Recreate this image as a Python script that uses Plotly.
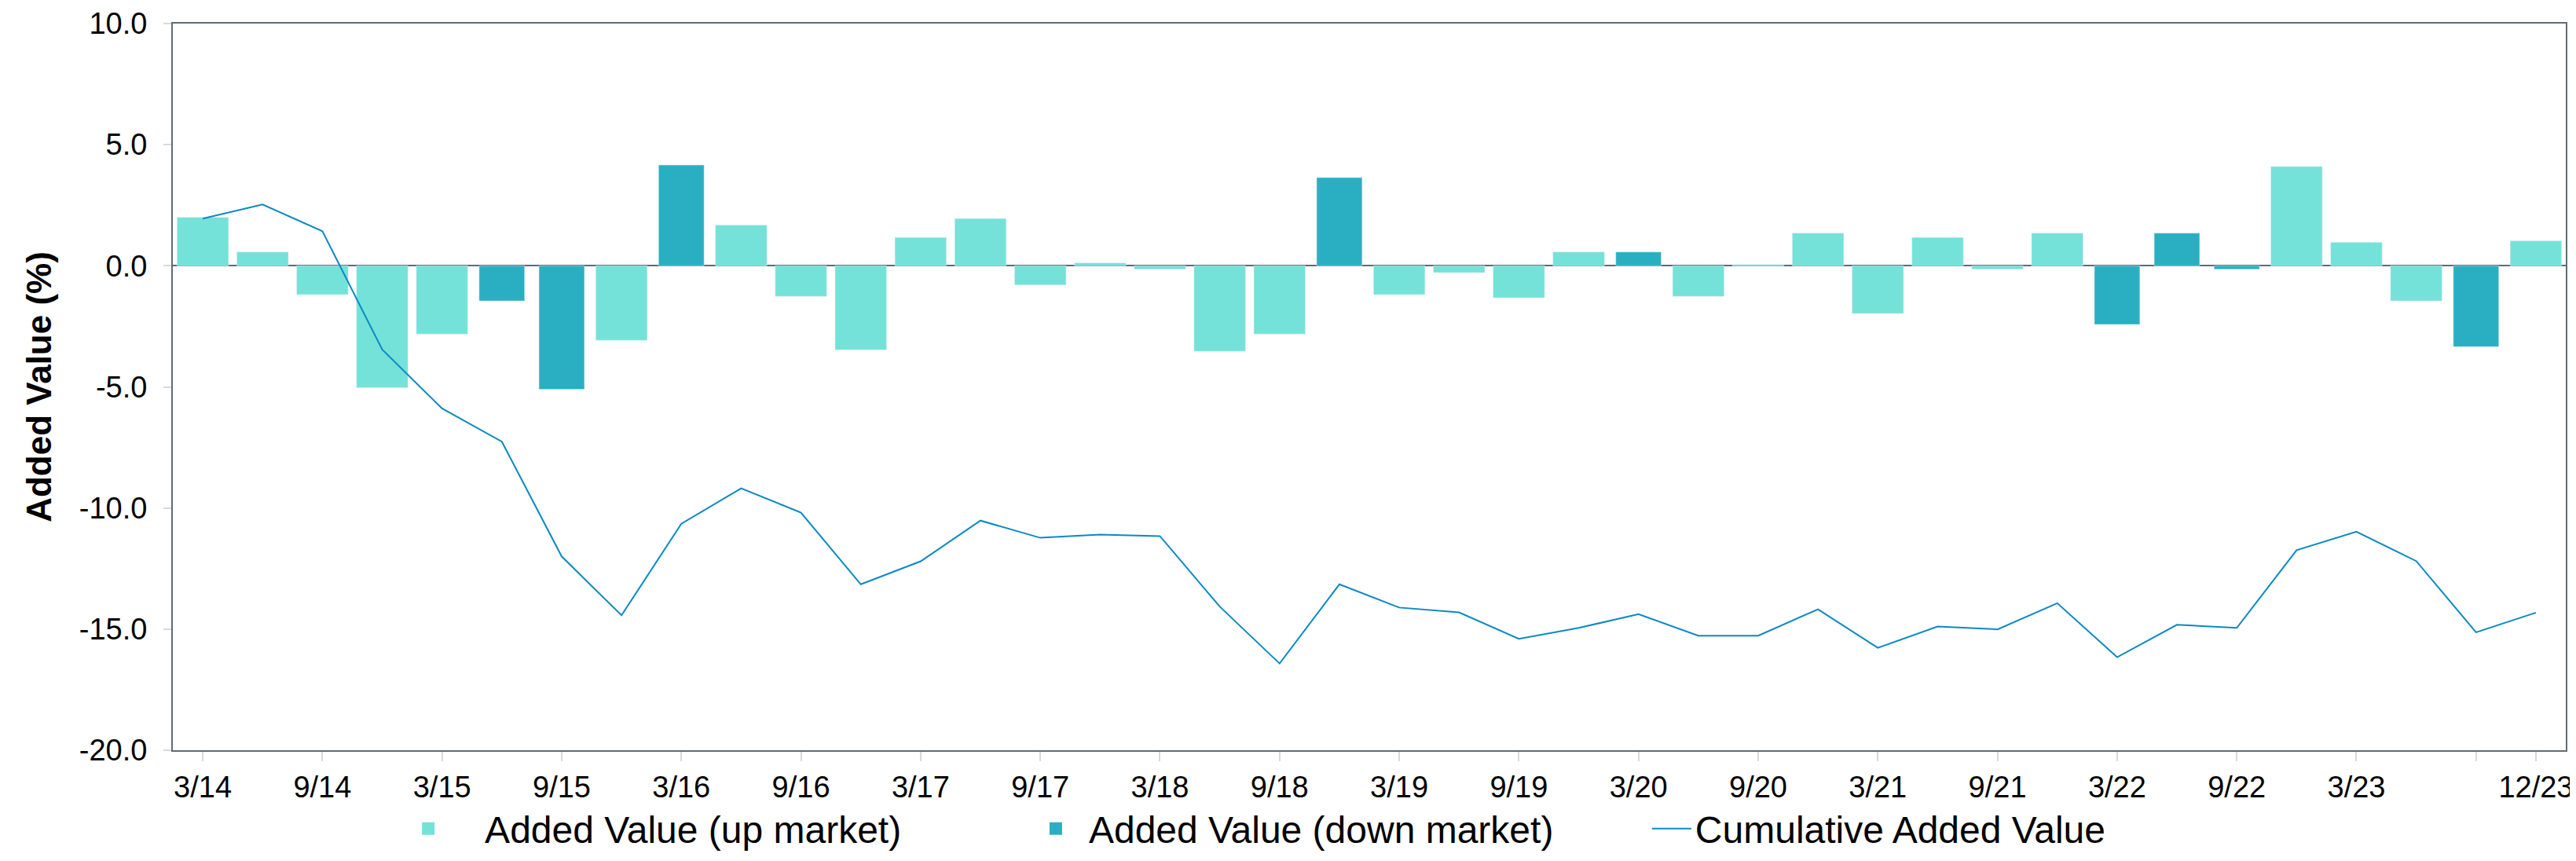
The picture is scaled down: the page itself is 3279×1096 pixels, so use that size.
import plotly.graph_objects as go

quarters = ["3/14", "6/14", "9/14", "12/14", "3/15", "6/15", "9/15", "12/15",
            "3/16", "6/16", "9/16", "12/16", "3/17", "6/17", "9/17", "12/17",
            "3/18", "6/18", "9/18", "12/18", "3/19", "6/19", "9/19", "12/19",
            "3/20", "6/20", "9/20", "12/20", "3/21", "6/21", "9/21", "12/21",
            "3/22", "6/22", "9/22", "12/22", "3/23", "6/23", "9/23", "12/23"]

up_market = [2.00, 0.57, -1.19, -5.03, -2.82, None, None, -3.08,
             None, 1.68, -1.26, -3.47, 1.17, 1.95, -0.79, 0.12,
             -0.14, -3.53, -2.82, None, -1.19, -0.28, -1.32, 0.57,
             None, -1.26, 0.05, 1.35, -1.97, 1.17, -0.14, 1.35,
             None, None, None, 4.10, 0.97, -1.45, None, 1.03]

down_market = [None, None, None, None, None, -1.45, -5.10, None,
               4.16, None, None, None, None, None, None, None,
               None, None, None, 3.64, None, None, None, None,
               0.57, None, None, None, None, None, None, None,
               -2.42, 1.35, -0.14, None, None, None, -3.34, None]

cumulative = [1.95, 2.53, 1.43, -3.46, -5.89, -7.26, -12.00, -14.43,
              -10.65, -9.19, -10.19, -13.15, -12.20, -10.52, -11.23, -11.10,
              -11.16, -14.07, -16.42, -13.15, -14.11, -14.31, -15.40, -14.95,
              -14.38, -15.27, -15.27, -14.18, -15.77, -14.89, -15.01, -13.93,
              -16.16, -14.82, -14.95, -11.74, -10.98, -12.19, -15.13, -14.32]

x_tick_vals = ["3/14", "9/14", "3/15", "9/15", "3/16", "9/16", "3/17", "9/17",
               "3/18", "9/18", "3/19", "9/19", "3/20", "9/20", "3/21", "9/21",
               "3/22", "9/22", "3/23", "9/23", "12/23"]
x_tick_text = ["3/14", "9/14", "3/15", "9/15", "3/16", "9/16", "3/17", "9/17",
               "3/18", "9/18", "3/19", "9/19", "3/20", "9/20", "3/21", "9/21",
               "3/22", "9/22", "3/23", "", "12/23"]
y_tick_vals = [-20, -15, -10, -5, 0, 5, 10]
y_tick_text = ["-20.0", "-15.0", "-10.0", "-5.0", "0.0", "5.0", "10.0"]

C_UP = "#74E2D8"
C_DOWN = "#2AAFC2"
C_LINE = "#0A89C4"
AXIS = "#5E6C77"
TICK = "#D9D9D9"
FONT = "Liberation Sans, Arial, Helvetica, sans-serif"

fig = go.Figure()
fig.add_trace(go.Bar(x=quarters, y=up_market, marker_color=C_UP, width=0.86,
                     name="Added Value (up market)", showlegend=False,
                     legendgroup="up"))
fig.add_trace(go.Bar(x=quarters, y=down_market, marker_color=C_DOWN, width=0.76,
                     name="Added Value (down market)", showlegend=False,
                     legendgroup="down"))
fig.add_trace(go.Scatter(x=quarters, y=cumulative, mode="lines",
                         line=dict(color=C_LINE, width=2),
                         name="Cumulative Added Value", legend="legend3"))
# legend entries for the bar series (larger square symbols)
fig.add_trace(go.Scatter(x=[None], y=[None], mode="markers",
                         marker=dict(symbol="square", size=16, color=C_UP),
                         name="Added Value (up market)", legendgroup="up",
                         legend="legend"))
fig.add_trace(go.Scatter(x=[None], y=[None], mode="markers",
                         marker=dict(symbol="square", size=16, color=C_DOWN),
                         name="Added Value (down market)", legendgroup="down",
                         legend="legend2"))

leg_common = dict(orientation="h", yanchor="middle", y=-0.1081, xanchor="left",
                  font=dict(family=FONT, size=48, color="#000000"),
                  itemsizing="trace", bgcolor="rgba(0,0,0,0)")

fig.update_layout(
    width=3271, height=1080,
    margin=dict(l=212, r=13, t=22, b=133, autoexpand=False),
    paper_bgcolor="white", plot_bgcolor="white",
    barmode="overlay",
    font=dict(family=FONT, size=38, color="#000000"),
    legend=dict(x=0.0831, itemwidth=134, **leg_common),
    legend2=dict(x=0.3552, itemwidth=74, **leg_common),
    legend3=dict(x=0.6165, itemwidth=50, **leg_common),
)
fig.update_xaxes(type="category", categoryorder="array", categoryarray=quarters,
                 tickvals=x_tick_vals, ticktext=x_tick_text,
                 ticks="outside", ticklen=12, tickwidth=2, tickcolor=TICK,
                 showline=True, mirror=True, linecolor=AXIS, linewidth=2,
                 showgrid=False, tickfont=dict(size=38, color="#000000"))
fig.update_yaxes(range=[-20, 10], tickvals=y_tick_vals, ticktext=y_tick_text,
                 ticks="outside", ticklen=10, tickwidth=2, tickcolor=TICK,
                 ticklabelstandoff=13,
                 showline=True, mirror=True, linecolor=AXIS, linewidth=2,
                 showgrid=False, zeroline=True, zerolinecolor=AXIS, zerolinewidth=2,
                 tickfont=dict(size=38, color="#000000"),
                 title=dict(text="<b>Added Value (%)</b>", standoff=21,
                            font=dict(family=FONT, size=44, color="#000000")))

fig.write_html("out.html")
